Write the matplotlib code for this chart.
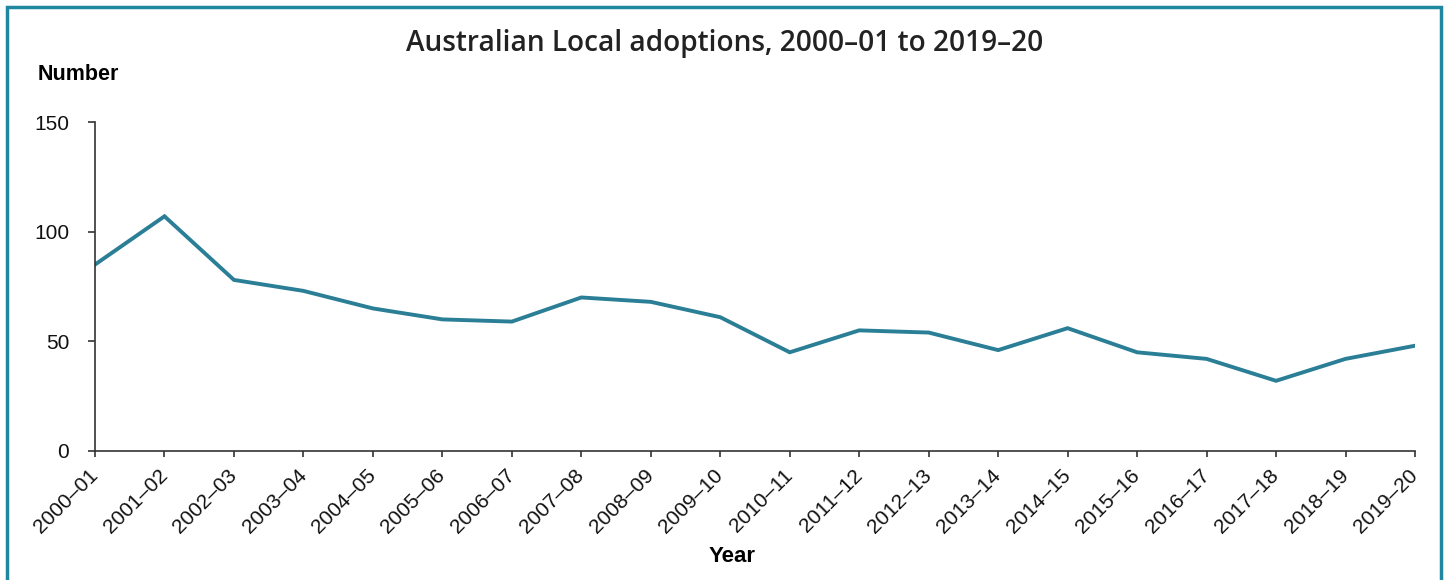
import matplotlib.pyplot as plt
from matplotlib.patches import Rectangle

years = ["2000–01", "2001–02", "2002–03", "2003–04", "2004–05", "2005–06",
         "2006–07", "2007–08", "2008–09", "2009–10", "2010–11", "2011–12",
         "2012–13", "2013–14", "2014–15", "2015–16", "2016–17", "2017–18",
         "2018–19", "2019–20"]
adoptions = [85, 107, 78, 73, 65, 60, 59, 70, 68, 61, 45, 55, 54, 46, 56,
             45, 42, 32, 42, 48]
y_ticks = [0, 50, 100, 150]

TEAL = "#2a7f96"
FRAME = "#1f87a0"
W, H = 1448, 580

plt.rcParams["font.family"] = ["Liberation Sans", "DejaVu Sans"]
fig = plt.figure(figsize=(W / 100, H / 100), dpi=100)

# outer frame
fig.patches.append(Rectangle((7 / W, -0.05), (1441 - 7) / W, 1.05 - 7 / H,
                             transform=fig.transFigure, fill=False,
                             edgecolor=FRAME, linewidth=2.5))

ax = fig.add_axes([95 / W, 1 - 451 / H, (1415 - 95) / W, (451 - 122) / H])
x = list(range(len(years)))
ax.plot(x, adoptions, color=TEAL, linewidth=2.8, solid_joinstyle="miter")

ax.set_xlim(0, len(years) - 1)
ax.set_ylim(0, 150)
ax.set_yticks(y_ticks)
ax.set_xticks(x)
ax.set_xticklabels(years, rotation=45, ha="right", va="center",
                   rotation_mode="anchor")
ax.tick_params(axis="both", labelsize=15, length=5, width=1.2,
               color="#333333", labelcolor="#111111")
ax.tick_params(axis="y", pad=13.5)
ax.tick_params(axis="x", length=4.5, pad=11)
for s in ["top", "right"]:
    ax.spines[s].set_visible(False)
for s in ["left", "bottom"]:
    ax.spines[s].set_linewidth(1.2)
    ax.spines[s].set_color("#333333")

fig.text(725 / W, 1 - 43 / H, "Australian Local adoptions, 2000–01 to 2019–20",
         ha="center", va="center", fontsize=20.2, family="Open Sans",
         fontweight="semibold", color="#222222")
fig.text(38 / W, 1 - 74 / H, "Number", ha="left", va="center",
         fontsize=15.5, fontweight="bold")
fig.text(732 / W, 1 - 556 / H, "Year", ha="center", va="center",
         fontsize=16, fontweight="bold")

fig.savefig("out.png", dpi=100)
